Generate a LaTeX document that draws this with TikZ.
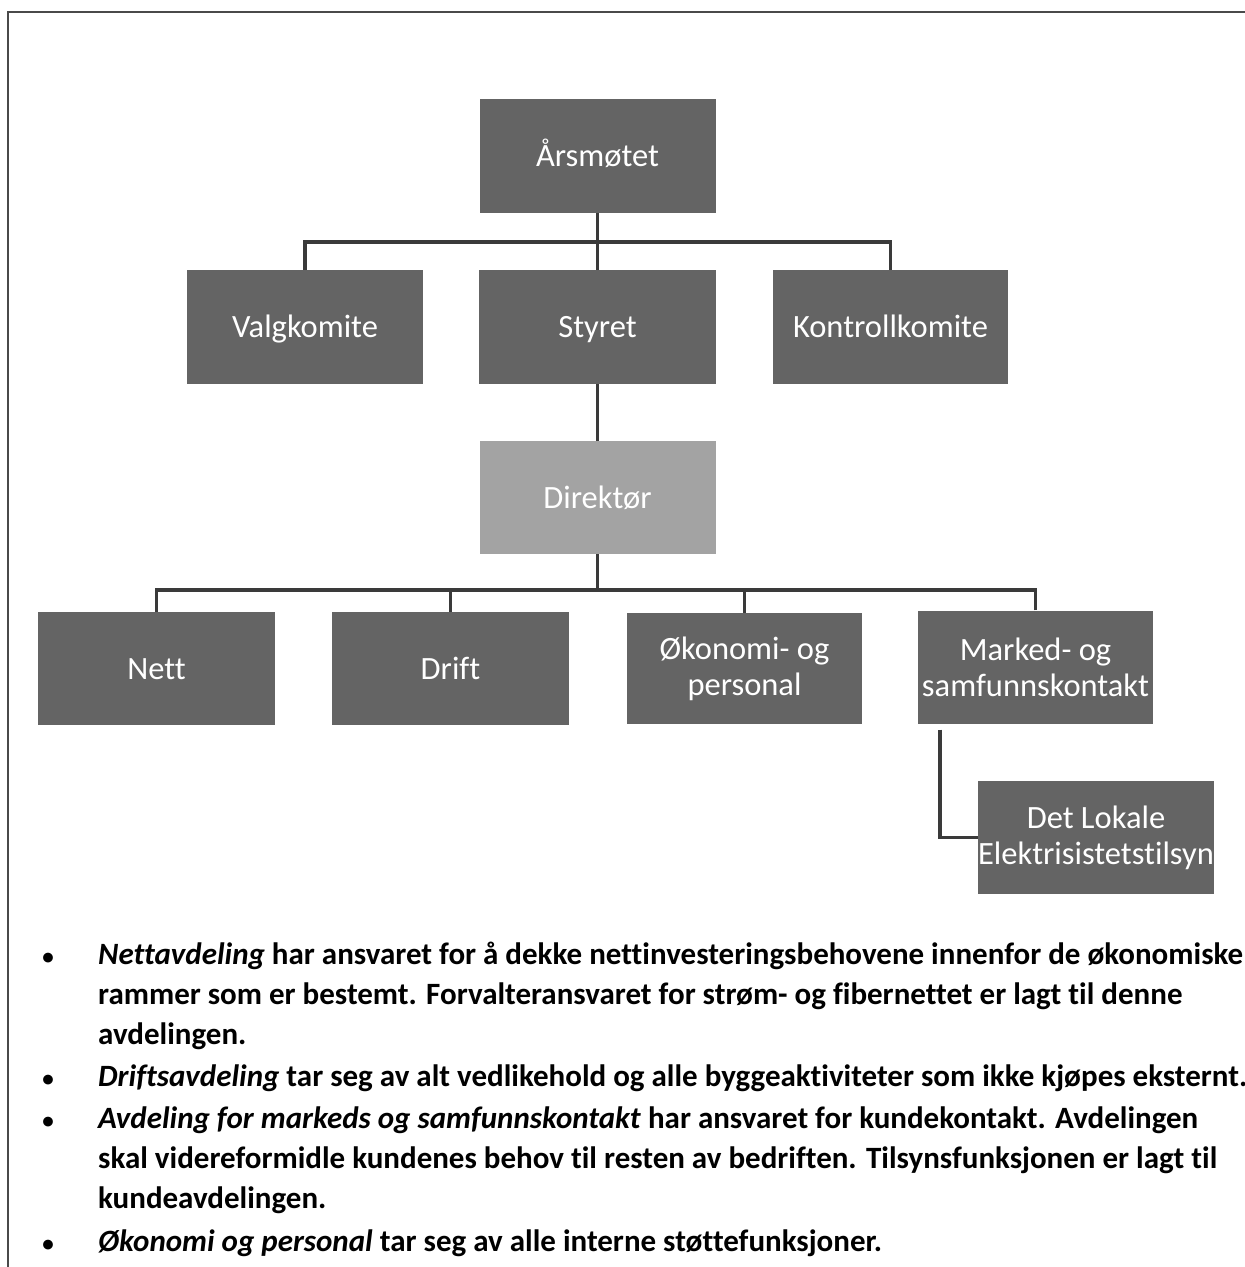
\documentclass[tikz,border=0pt]{standalone}
\usepackage{fontspec}
\setmainfont{Carlito}[Ligatures=NoCommon]
\definecolor{boxdark}{HTML}{646464}
\definecolor{boxlight}{HTML}{A3A3A3}
\definecolor{conncol}{HTML}{3A3A3A}
\definecolor{framecol}{HTML}{4A4A4A}
\begin{document}
\begin{tikzpicture}[x=1pt,y=-1pt,
  orgbox/.style={draw=none,fill=boxdark,text=white,minimum width=236pt,minimum height=114pt,
    inner sep=0pt,align=center,font=\fontsize{32.5}{36}\selectfont},
  onebox/.style={orgbox,text height=25pt,text depth=4pt},
  litebox/.style={onebox,fill=boxlight},
  conn/.style={draw=conncol,line width=3.5pt},
  frameline/.style={draw=framecol,line width=2pt},
  txtline/.style={anchor=base west,inner sep=0pt,font=\fontsize{31}{40}\selectfont\bfseries},
  bul/.style={anchor=base,inner sep=0pt,font=\fontsize{23}{30}\selectfont\bfseries}]
\useasboundingbox (0,0) rectangle (1245,1267);
\fill[white] (0,0) rectangle (1245,1267);
\draw[frameline] (8,1267) -- (8,12) -- (1245,12);

\node[onebox] (ars) at (597.5,155.5) {Årsmøtet};
\node[onebox] (val) at (305,327) {Valgkomite};
\node[onebox,minimum width=237pt] (sty) at (597.5,327) {Styret};
\node[onebox,minimum width=235pt] (kon) at (890.5,327) {Kontrollkomite};
\node[litebox,minimum height=113pt] (dir) at (597.5,497.5) {Direktør};
\node[onebox,minimum width=237pt,minimum height=113pt] (nett) at (156.5,668.5) {Nett};
\node[onebox,minimum width=237pt,minimum height=113pt] (drift) at (450.5,668.5) {Drift};
\node[orgbox,minimum width=235pt,minimum height=111pt] (oko) at (744.5,668.5) {Økonomi- og\\personal};
\node[orgbox,minimum width=235pt,minimum height=113pt] (mark) at (1035.5,667) {Marked- og\\samfunnskontakt};
\node[orgbox,minimum width=234pt,minimum height=113pt] (dlet) at (1096,837.5) {Det Lokale\\Elektrisistetstilsyn};

\coordinate (bus1) at (597.5,242);
\coordinate (bus2) at (597.5,590);
\draw[conn] (ars.south) -- (bus1);
\draw[conn] (val.north) |- (bus1);
\draw[conn] (kon.north) |- (bus1);
\draw[conn] (sty.north) -- (bus1);
\draw[conn] (sty.south) -- (dir.north);
\draw[conn] (dir.south) -- (bus2);
\draw[conn] (nett.north) |- (bus2);
\draw[conn] (mark.north) |- (bus2);
\draw[conn] (drift.north) -- (drift.north |- bus2);
\draw[conn] (oko.north) -- (oko.north |- bus2);
\coordinate (elb) at ([xshift=22pt,yshift=-6pt]mark.south west);
\draw[conn] (elb) |- (dlet.west);

\node[bul] (b1) at (48,964) {•};
\node[txtline] (l1) at (98,964) {\textit{Nettavdeling} har ansvaret for å dekke nettinvesteringsbehovene innenfor de økonomiske};
\node[txtline] (l2) at (98,1004) {rammer som er bestemt. Forvalteransvaret for strøm- og fibernettet er lagt til denne};
\node[txtline] (l3) at (98,1044) {avdelingen.};
\node[bul] (b2) at (48,1086) {•};
\node[txtline] (l4) at (98,1086) {\textit{Driftsavdeling} tar seg av alt vedlikehold og alle byggeaktiviteter som ikke kjøpes eksternt.};
\node[bul] (b3) at (48,1128) {•};
\node[txtline] (l5) at (98,1128) {\textit{Avdeling for markeds og samfunnskontakt} har ansvaret for kundekontakt. Avdelingen};
\node[txtline] (l6) at (98,1168) {skal videreformidle kundenes behov til resten av bedriften. Tilsynsfunksjonen er lagt til};
\node[txtline] (l7) at (98,1208) {kundeavdelingen.};
\node[bul] (b4) at (48,1251) {•};
\node[txtline] (l8) at (98,1251) {\textit{Økonomi og personal} tar seg av alle interne støttefunksjoner.};
\end{tikzpicture}
\end{document}
